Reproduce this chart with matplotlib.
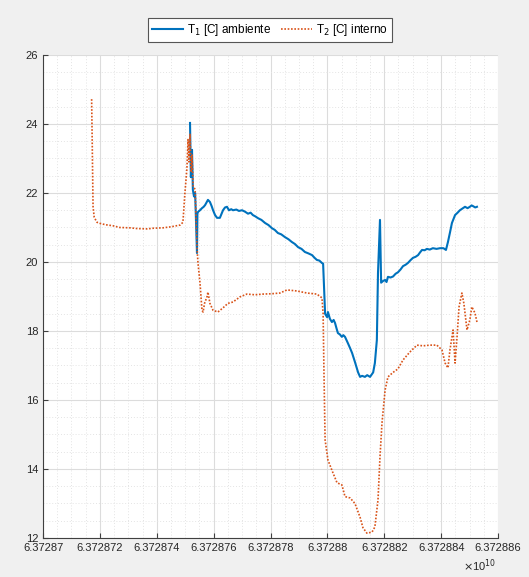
import matplotlib
matplotlib.use("Agg")
import matplotlib.pyplot as plt
from matplotlib.ticker import FuncFormatter, MultipleLocator

plt.rcParams['font.family'] = ['Liberation Sans', 'DejaVu Sans']

# time axis: offset (in units of 1e4 s) from the base value 6.37287e10
T0 = 6.37287e10
UNIT = 1e4

t1_x = [5.17, 5.20, 5.24, 5.27, 5.31, 5.35, 5.38, 5.415, 5.43, 5.45, 5.52, 5.59, 5.65, 5.70,
        5.80, 5.87, 5.93, 5.98, 6.05, 6.12, 6.22, 6.28, 6.33, 6.40, 6.47, 6.54, 6.62, 6.68,
        6.80, 6.89, 7.00, 7.10, 7.21, 7.30, 7.38, 7.47, 7.56, 7.68, 7.81, 7.93, 8.05, 8.15,
        8.26, 8.38, 8.51, 8.63, 8.75, 8.86, 8.97, 9.09, 9.21, 9.33, 9.46, 9.55, 9.63, 9.72,
        9.81, 9.85, 9.92, 9.99, 10.02, 10.09, 10.16, 10.22, 10.27, 10.32, 10.37, 10.44, 10.51,
        10.56, 10.62, 10.72, 10.80, 10.87, 10.97, 11.08, 11.15, 11.22, 11.32, 11.40, 11.50,
        11.61, 11.67, 11.74, 11.78, 11.85, 11.89, 11.96, 12.03, 12.08, 12.13, 12.22, 12.31,
        12.40, 12.48, 12.57, 12.66, 12.75, 12.83, 12.92, 13.01, 13.10, 13.19, 13.26, 13.33,
        13.42, 13.50, 13.60, 13.71, 13.84, 13.96, 14.08, 14.17, 14.24, 14.31, 14.38, 14.49,
        14.58, 14.66, 14.75, 14.84, 14.93, 15.01, 15.07, 15.12, 15.20, 15.26]
t1_y = [24.03, 22.46, 23.25, 22.09, 21.90, 22.00, 21.20, 20.26, 21.40, 21.45, 21.50, 21.56, 21.60, 21.65,
        21.80, 21.74, 21.62, 21.50, 21.36, 21.28, 21.28, 21.40, 21.50, 21.58, 21.60, 21.50, 21.53, 21.50,
        21.52, 21.48, 21.50, 21.46, 21.40, 21.43, 21.36, 21.32, 21.27, 21.22, 21.13, 21.07, 20.98, 20.93,
        20.84, 20.80, 20.72, 20.66, 20.58, 20.52, 20.43, 20.38, 20.29, 20.25, 20.20, 20.12, 20.06, 20.04,
        19.97, 19.95, 18.50, 18.40, 18.55, 18.35, 18.26, 18.32, 18.23, 18.08, 17.94, 17.90, 17.83,
        17.88, 17.83, 17.65, 17.50, 17.36, 17.10, 16.80, 16.67, 16.70, 16.67, 16.72, 16.67,
        16.80, 17.07, 17.74, 19.68, 21.22, 19.40, 19.45, 19.48, 19.42, 19.57, 19.55, 19.58,
        19.66, 19.70, 19.78, 19.88, 19.92, 19.97, 20.05, 20.12, 20.15, 20.20, 20.28, 20.35,
        20.34, 20.38, 20.36, 20.40, 20.38, 20.40, 20.40, 20.35, 20.58, 20.85, 21.13, 21.36,
        21.43, 21.50, 21.55, 21.60, 21.56, 21.60, 21.64, 21.62, 21.58, 21.60]

t2_x = [1.71, 1.73, 1.76, 1.80, 1.83, 1.90, 2.00, 2.20, 2.46, 2.70, 3.06, 3.30, 3.66, 3.90,
        4.22, 4.50, 4.82, 4.92, 4.99, 5.06, 5.10, 5.13, 5.17, 5.21, 5.24, 5.28, 5.35, 5.38,
        5.42, 5.45, 5.52, 5.59, 5.63, 5.68, 5.77, 5.80, 5.87, 5.98, 6.15, 6.33, 6.50, 6.68,
        6.93, 7.17, 7.45, 7.74, 8.05, 8.33, 8.58, 8.93, 9.28, 9.63, 9.81, 9.85, 9.88, 9.92,
        10.02, 10.20, 10.34, 10.51, 10.62, 10.80, 10.97, 11.15, 11.25, 11.39, 11.57, 11.67,
        11.78, 11.85, 11.92, 12.03, 12.13, 12.31, 12.48, 12.66, 12.90, 13.15, 13.36, 13.61,
        13.85, 14.03, 14.14, 14.24, 14.31, 14.42, 14.49, 14.56, 14.63, 14.73, 14.80, 14.91,
        15.01, 15.08, 15.19, 15.26]
t2_y = [24.72, 23.50, 21.60, 21.30, 21.25, 21.15, 21.12, 21.08, 21.05, 21.00, 20.99, 20.97, 20.96, 20.98,
        20.99, 21.02, 21.07, 21.15, 22.00, 22.70, 23.55, 22.90, 23.70, 22.60, 23.10, 22.20, 22.10, 21.30,
        20.35, 19.97, 19.40, 18.60, 18.55, 18.80, 19.00, 19.13, 18.80, 18.60, 18.55, 18.67, 18.80, 18.84,
        18.99, 19.07, 19.05, 19.07, 19.08, 19.10, 19.19, 19.16, 19.10, 19.07, 18.96, 18.50, 16.80, 14.84,
        14.26, 13.88, 13.60, 13.54, 13.20, 13.16, 13.00, 12.60, 12.30, 12.14, 12.17, 12.32,
        13.10, 14.35, 15.33, 16.29, 16.67, 16.80, 16.90, 17.16, 17.39, 17.59, 17.57, 17.59,
        17.59, 17.45, 17.07, 16.93, 17.45, 18.03, 17.07, 17.83, 18.70, 19.10, 18.80, 18.03,
        18.32, 18.70, 18.52, 18.26]

labels = ['T$_1$ [C] ambiente', 'T$_2$ [C] interno']
x_ticks = [0, 2, 4, 6, 8, 10, 12, 14, 16]
y_ticks = [12, 14, 16, 18, 20, 22, 24, 26]

BLUE = '#0072BD'
ORANGE = '#D95319'

fig = plt.figure(figsize=(5.29, 5.77), dpi=100, facecolor='#f0f0f0')
ax = fig.add_axes([0.0813, 0.0676, 0.8601, 0.8371])
ax.set_facecolor('white')

x1 = [T0 + v * UNIT for v in t1_x]
x2 = [T0 + v * UNIT for v in t2_x]
ax.plot(x1, t1_y, color=BLUE, lw=1.5, label=labels[0], zorder=3)
ax.plot(x2, t2_y, color=ORANGE, lw=1.2, ls=(0, (1, 1)), label=labels[1], zorder=4)

ax.set_xlim(T0 + x_ticks[0] * UNIT, T0 + x_ticks[-1] * UNIT)
ax.set_ylim(y_ticks[0], y_ticks[-1])
ax.set_xticks([T0 + v * UNIT for v in x_ticks])
ax.set_yticks(y_ticks)
ax.xaxis.set_minor_locator(MultipleLocator(0.5 * UNIT))
ax.yaxis.set_minor_locator(MultipleLocator(0.5))
ax.xaxis.set_major_formatter(FuncFormatter(lambda v, p: '%.7g' % (v / 1e10)))

ax.grid(which='major', color='#dcdcdc', lw=0.8, ls='-')
ax.grid(which='minor', color='#e4e4e4', lw=0.7, ls=(0, (1, 2)))
ax.set_axisbelow(True)

for s in ['top', 'right']:
    ax.spines[s].set_visible(False)
for s in ['left', 'bottom']:
    ax.spines[s].set_color('#404040')
    ax.spines[s].set_linewidth(0.8)

ax.tick_params(which='major', direction='in', length=3.5, width=0.8, color='#404040',
               labelsize=8, labelcolor='#262626')
ax.tick_params(which='minor', length=0)

ax.text(0.96, -0.057, r'$\times$10$^{10}$', transform=ax.transAxes, ha='center', va='center',
        fontsize=8, color='#262626')

leg = ax.legend(loc='center', bbox_to_anchor=(0.499, 1.052), ncol=2, fontsize=8.5,
                frameon=True, fancybox=False, edgecolor='#555555', framealpha=1,
                handlelength=2.6, columnspacing=0.8, handletextpad=0.4, borderpad=0.35)
leg.get_frame().set_linewidth(0.8)

fig.savefig('out.png', dpi=100, facecolor=fig.get_facecolor())
